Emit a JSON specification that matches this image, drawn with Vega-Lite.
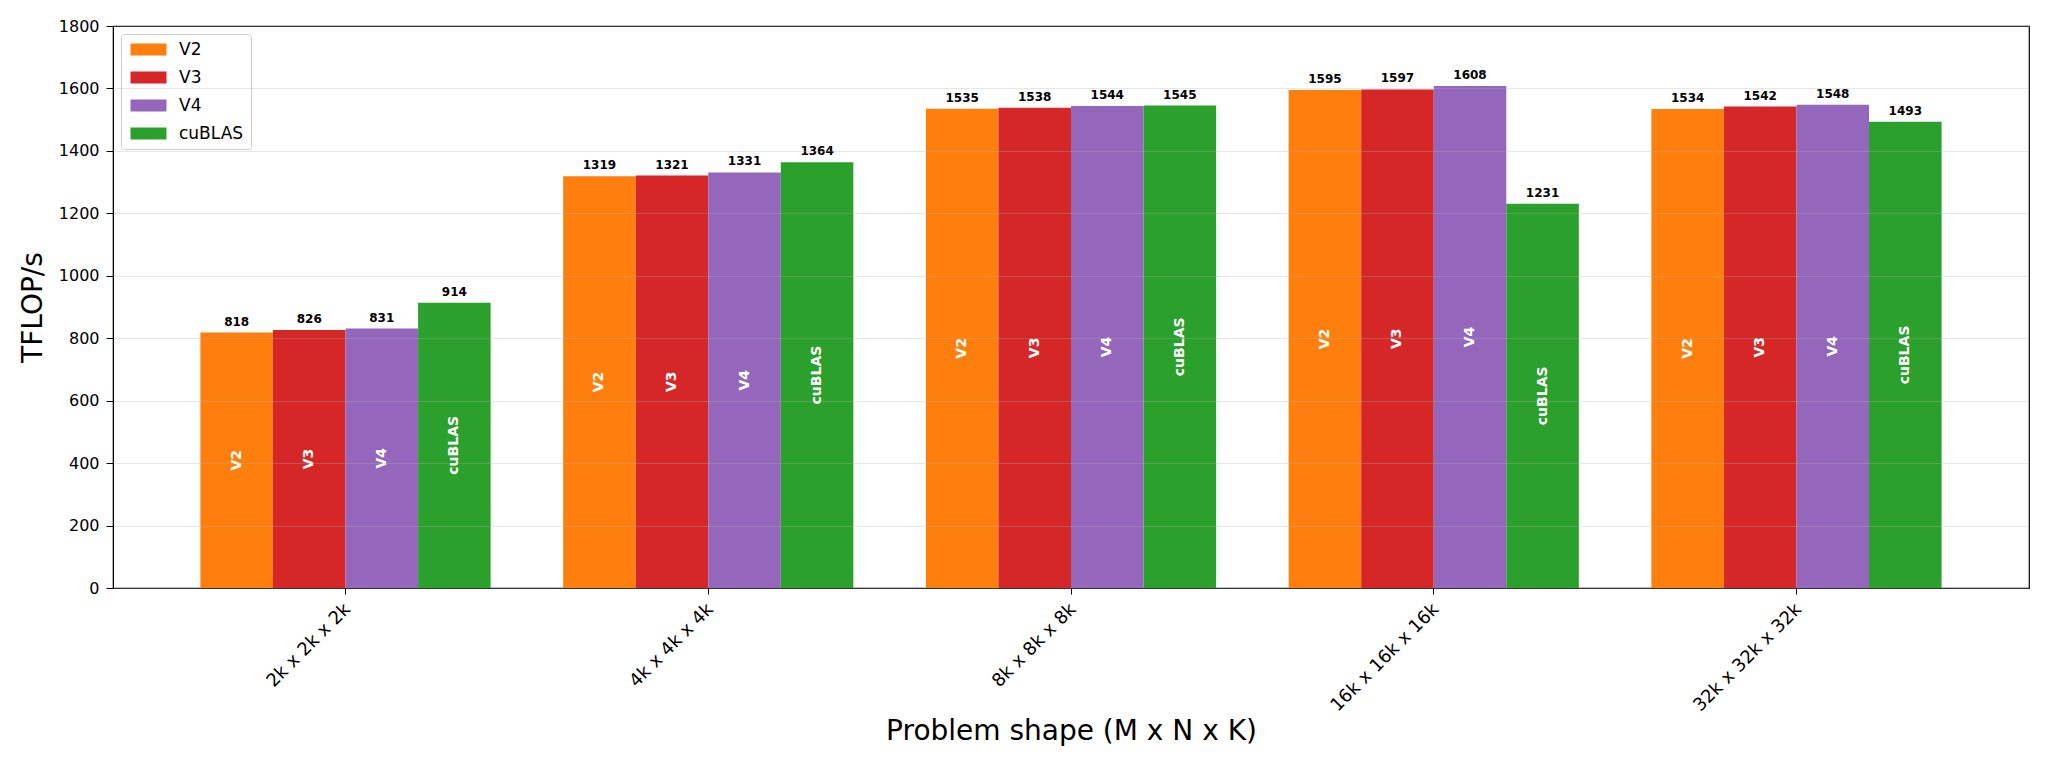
{
  "$schema": "https://vega.github.io/schema/vega-lite/v6.json",
  "width": 1916,
  "height": 562,
  "autosize": {"type": "none"},
  "padding": {"left": 113, "top": 26, "right": 19, "bottom": 180},
  "config": {
    "font": "DejaVu Sans",
    "view": {"stroke": "black", "strokeWidth": 1.2},
    "axis": {
      "labelFont": "DejaVu Sans",
      "titleFont": "DejaVu Sans",
      "labelColor": "black",
      "titleColor": "black",
      "tickColor": "black",
      "domainColor": "black",
      "labelFontSize": 16,
      "titleFontSize": 28,
      "titleFontWeight": "normal",
      "tickSize": 7,
      "labelPadding": 7
    },
    "legend": {
      "orient": "top-left",
      "offset": 8,
      "padding": 7,
      "strokeColor": "#cccccc",
      "cornerRadius": 3,
      "fillColor": "white",
      "symbolType": "M-1,-1H5V1H-1Z",
      "symbolSize": 144,
      "symbolStrokeWidth": 0,
      "symbolOpacity": 1,
      "labelFontSize": 17,
      "labelColor": "black",
      "labelOffset": 34,
      "rowPadding": 10
    }
  },
  "data": {
    "values": [
      {"shape": "2k x 2k x 2k", "impl": "V2", "tflops": 818},
      {"shape": "2k x 2k x 2k", "impl": "V3", "tflops": 826},
      {"shape": "2k x 2k x 2k", "impl": "V4", "tflops": 831},
      {"shape": "2k x 2k x 2k", "impl": "cuBLAS", "tflops": 914},
      {"shape": "4k x 4k x 4k", "impl": "V2", "tflops": 1319},
      {"shape": "4k x 4k x 4k", "impl": "V3", "tflops": 1321},
      {"shape": "4k x 4k x 4k", "impl": "V4", "tflops": 1331},
      {"shape": "4k x 4k x 4k", "impl": "cuBLAS", "tflops": 1364},
      {"shape": "8k x 8k x 8k", "impl": "V2", "tflops": 1535},
      {"shape": "8k x 8k x 8k", "impl": "V3", "tflops": 1538},
      {"shape": "8k x 8k x 8k", "impl": "V4", "tflops": 1544},
      {"shape": "8k x 8k x 8k", "impl": "cuBLAS", "tflops": 1545},
      {"shape": "16k x 16k x 16k", "impl": "V2", "tflops": 1595},
      {"shape": "16k x 16k x 16k", "impl": "V3", "tflops": 1597},
      {"shape": "16k x 16k x 16k", "impl": "V4", "tflops": 1608},
      {"shape": "16k x 16k x 16k", "impl": "cuBLAS", "tflops": 1231},
      {"shape": "32k x 32k x 32k", "impl": "V2", "tflops": 1534},
      {"shape": "32k x 32k x 32k", "impl": "V3", "tflops": 1542},
      {"shape": "32k x 32k x 32k", "impl": "V4", "tflops": 1548},
      {"shape": "32k x 32k x 32k", "impl": "cuBLAS", "tflops": 1493}
    ]
  },
  "encoding": {
    "x": {
      "field": "shape",
      "type": "nominal",
      "sort": ["2k x 2k x 2k", "4k x 4k x 4k", "8k x 8k x 8k", "16k x 16k x 16k", "32k x 32k x 32k"],
      "scale": {"paddingInner": 0.2, "paddingOuter": 0.241},
      "title": "Problem shape (M x N x K)",
      "axis": {
        "labelAngle": -45,
        "labelAlign": "right",
        "labelBaseline": "top",
        "labelFontSize": 18,
        "labelPadding": 6,
        "labelOffset": -4,
        "tickSize": 6,
        "titleX": 958,
        "titleY": 143,
        "titleAlign": "center",
        "titleBaseline": "middle"
      }
    },
    "xOffset": {
      "field": "impl",
      "type": "nominal",
      "sort": ["V2", "V3", "V4", "cuBLAS"],
      "scale": {"paddingInner": 0, "paddingOuter": 0}
    }
  },
  "layer": [
    {
      "mark": {"type": "bar"},
      "encoding": {
        "y": {
          "field": "tflops",
          "type": "quantitative",
          "title": "TFLOP/s",
          "scale": {"domain": [0, 1800], "nice": false},
          "axis": {
            "values": [0, 200, 400, 600, 800, 1000, 1200, 1400, 1600, 1800],
            "format": "d",
            "grid": true,
            "gridColor": "#b0b0b0",
            "gridOpacity": 0.3,
            "zindex": 1,
            "titleX": -80,
            "titleY": 281,
            "titleAlign": "center",
            "titleBaseline": "middle"
          }
        },
        "color": {
          "field": "impl",
          "type": "nominal",
          "title": null,
          "sort": ["V2", "V3", "V4", "cuBLAS"],
          "scale": {
            "domain": ["V2", "V3", "V4", "cuBLAS"],
            "range": ["#ff7f0e", "#d62728", "#9467bd", "#2ca02c"]
          }
        }
      }
    },
    {
      "mark": {
        "type": "text",
        "baseline": "bottom",
        "dy": -4,
        "fontWeight": "bold",
        "fontSize": 12,
        "color": "black"
      },
      "encoding": {
        "y": {"field": "tflops", "type": "quantitative", "title": "TFLOP/s"},
        "text": {"field": "tflops", "type": "quantitative"}
      }
    },
    {
      "transform": [{"calculate": "datum.tflops / 2", "as": "mid"}],
      "mark": {
        "type": "text",
        "angle": 270,
        "align": "center",
        "baseline": "middle",
        "fontWeight": "bold",
        "fontSize": 14,
        "color": "white"
      },
      "encoding": {
        "y": {"field": "mid", "type": "quantitative", "title": "TFLOP/s"},
        "text": {"field": "impl", "type": "nominal"}
      }
    }
  ]
}
